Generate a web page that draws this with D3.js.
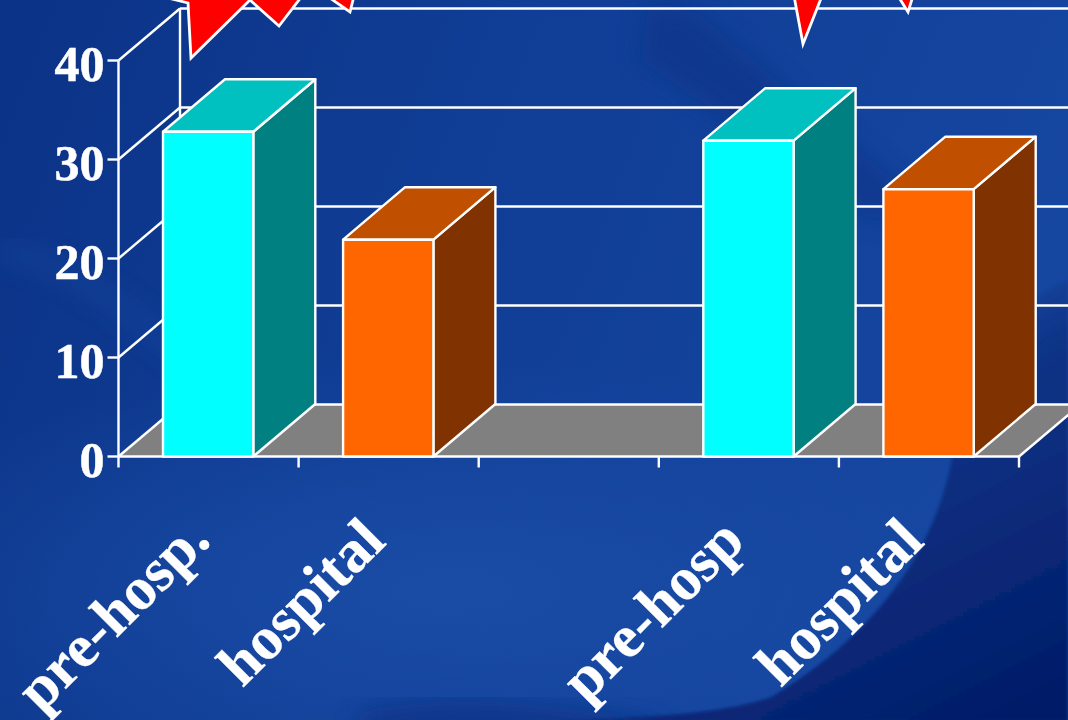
<!DOCTYPE html>
<html><head><meta charset="utf-8">
<script src="https://cdn.jsdelivr.net/npm/d3@7"></script>
<style>html,body{margin:0;padding:0;background:#12409a;overflow:hidden}svg{display:block}</style>
</head><body><div id="c"></div>
<script>
const slots = [0, 1, 3, 4];
const labelsUsed = ["pre-hosp.", "hospital", "pre-hosp", "hospital"];
const barValues = [32.8, 21.9, 31.9, 27.0];
const barKinds = ["cyan", "orange", "cyan", "orange"];
const yTicks = [0, 10, 20, 30, 40];
const W = 1068, H = 720;
const svg = d3.select("#c").append("svg").attr("width", W).attr("height", H);
const defs = svg.append("defs");
const bg = defs.append("linearGradient").attr("id","bg").attr("x1",0).attr("y1",0).attr("x2",1).attr("y2",0.25);
[[0,"#0b3387"],[0.45,"#103d95"],[1,"#1546a0"]].forEach(s=>bg.append("stop").attr("offset",s[0]).attr("stop-color",s[1]));
const lt = defs.append("radialGradient").attr("id","lt");
lt.append("stop").attr("offset",0).attr("stop-color","#1a4ca6").attr("stop-opacity",1);
lt.append("stop").attr("offset",1).attr("stop-color","#1a4ca6").attr("stop-opacity",0);
const dkG = defs.append("linearGradient").attr("id","dkG").attr("gradientUnits","userSpaceOnUse").attr("x1",850).attr("y1",330).attr("x2",1040).attr("y2",700);
[[0,"#0f3c92",0],[0.25,"#0c3487",1],[1,"#031c68",1]].forEach(s=>dkG.append("stop").attr("offset",s[0]).attr("stop-color",s[1]).attr("stop-opacity",s[2]));
defs.append("filter").attr("id","bl").append("feGaussianBlur").attr("stdDeviation",12);
defs.append("filter").attr("id","bs").append("feGaussianBlur").attr("stdDeviation",1.5);
svg.append("rect").attr("width",W).attr("height",H).attr("fill","url(#bg)");
svg.append("ellipse").attr("cx",450).attr("cy",590).attr("rx",640).attr("ry",230).attr("fill","url(#lt)");
// soft shapes of the slide background
svg.append("path").attr("d","M650 0 L700 15 L905 190 L880 225 L640 60 Z").attr("fill","#0a3186").attr("opacity",0.6).attr("filter","url(#bl)");
svg.append("path").attr("d","M360 712 C460 690 560 706 660 722 L660 740 L360 740 Z").attr("fill","#0b3286").attr("opacity",0.8).attr("filter","url(#bl)");
svg.append("path").attr("d","M560 722 C650 716 720 715 772 697 C900 620 945 520 955 440 L975 330 L1068 280 L1068 722 Z")
  .attr("fill","url(#dkG)").attr("filter","url(#bs)");
svg.append("path").attr("d","M0 250 C70 260 140 320 200 370").attr("fill","none").attr("stroke","#1a4ca6").attr("stroke-width",14).attr("opacity",0.5).attr("filter","url(#bl)");

const y = d3.scaleLinear().domain([0,40]).range([456.5,60.5]);
const x = d3.scaleLinear().domain([0,5]).range([118.5,1019]);
const depth = {dx:61.5, dy:-52};
const white = "#fff";
const sw = 2.4;
const line = (g,x1,y1,x2,y2,w=sw)=>g.append("line").attr("x1",x1).attr("y1",y1).attr("x2",x2).attr("y2",y2).attr("stroke",white).attr("stroke-width",w);

// floor
svg.append("path").attr("d",`M${x(0)} ${y(0)} L${x(0)+depth.dx} ${y(0)+depth.dy} L${x(5)+depth.dx} ${y(0)+depth.dy} L${x(5)} ${y(0)} Z`)
  .attr("fill","#808080");
const grid = svg.append("g");
yTicks.forEach(t=>{
  line(grid,x(0),y(t),x(0)+depth.dx,y(t)+depth.dy);
  line(grid,x(0)+depth.dx,y(t)+depth.dy,W+2,y(t)+depth.dy);
});
line(grid,x(0)+depth.dx,y(0)+depth.dy,x(0)+depth.dx,y(40)+depth.dy);
line(grid,x(5),y(0),x(5)+depth.dx,y(0)+depth.dy);

// star bursts cut off by the top of the frame
const stars = [
  [[160,-4],[188,3],[191,58],[250,0],[279,26],[302,-4],[327,-4],[350,12],[354,-4]],
  [[794,-4],[803,44],[822,-4]],
  [[898,-4],[908,12],[913,-4]]
];
svg.selectAll("path.star").data(stars).join("path").attr("class","star")
  .attr("d",d=>d3.line()(d)).attr("fill","#ff0000").attr("stroke",white).attr("stroke-width",2.8).attr("stroke-linejoin","miter");

// axes
const axG = svg.append("g");
line(axG,x(0),y(0),x(0),y(40));
line(axG,x(0),y(0),x(5),y(0));
yTicks.forEach(t=>line(axG,x(0)-11,y(t),x(0),y(t)));
d3.range(0,6).forEach(i=>line(axG,x(i),y(0),x(i),y(0)+11));
axG.selectAll("text.yt").data(yTicks).join("text").attr("class","yt")
  .attr("x",x(0)-14).attr("y",d=>y(d)+20).attr("text-anchor","end")
  .attr("font-family","'Liberation Serif',serif").attr("font-weight","bold").attr("font-size",50)
  .attr("fill",white).attr("stroke",white).attr("stroke-width",0.5)
  .text(d=>d);

// bars
const barW = 90.3;
const colors = {cyan:["#00ffff","#00c0c0","#008080"],orange:["#ff6600","#c05000","#803300"]};
const bars = svg.selectAll("g.bar").data(barValues).join("g").attr("class","bar");
bars.each(function(v,i){
  const g=d3.select(this), x0=x(slots[i])+44.5, x1=x0+barW, yT=y(v), yB=y(0), c=colors[barKinds[i]], dx=depth.dx+0.5, dy=depth.dy-0.5;
  const poly=(pts,fill)=>g.append("path").attr("d",d3.line()(pts)+"Z").attr("fill",fill).attr("stroke",white).attr("stroke-width",sw).attr("stroke-linejoin","round");
  poly([[x1,yB],[x1+dx,yB+dy],[x1+dx,yT+dy],[x1,yT]],c[2]);
  poly([[x0,yT],[x0+dx,yT+dy],[x1+dx,yT+dy],[x1,yT]],c[1]);
  poly([[x0,yB],[x1,yB],[x1,yT],[x0,yT]],c[0]);
});

// category labels
const labelNudge = [[4,-6],[-1,-5],[-2,-5],[-3,-5]];
svg.selectAll("text.cat").data(labelsUsed).join("text").attr("class","cat")
  .attr("transform",(d,i)=>`translate(${x(slots[i])+90+labelNudge[i][0]},${y(0)+92+labelNudge[i][1]}) rotate(-45)`)
  .attr("text-anchor","end")
  .attr("font-family","'Liberation Serif',serif").attr("font-weight","bold").attr("font-size",60.5)
  .attr("fill",white).attr("stroke",white).attr("stroke-width",0.3)
  .text(d=>d);
</script></body></html>
